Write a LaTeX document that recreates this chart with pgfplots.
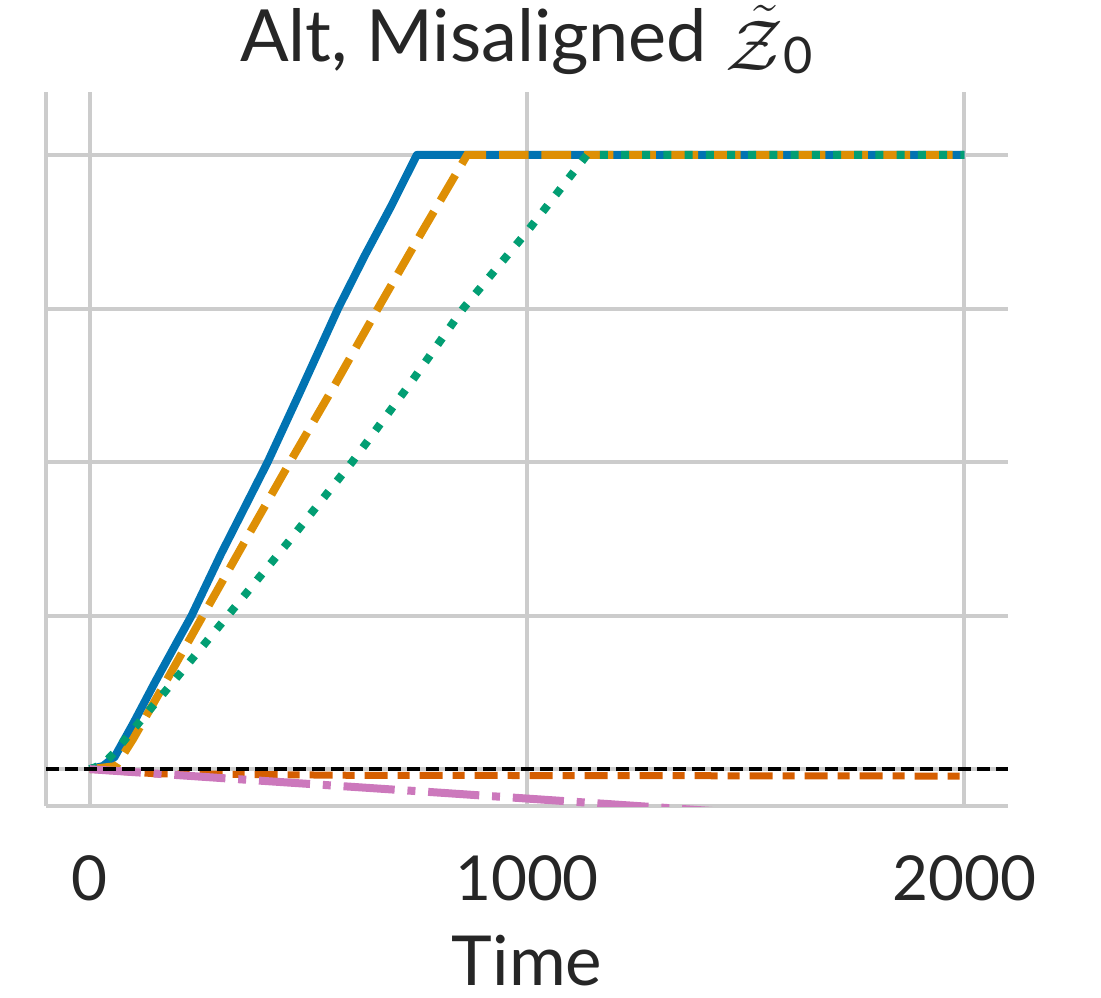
\RequirePackage{fix-cm}
\documentclass[border=0pt]{standalone}
\usepackage{amsmath}
\usepackage{fontspec}
\setmainfont{Lato}
\usepackage{pgfplots}
\pgfplotsset{compat=1.18}
\definecolor{cbblue}{HTML}{0173B2}
\definecolor{cborange}{HTML}{DE8F05}
\definecolor{cbgreen}{HTML}{029E73}
\definecolor{cbred}{HTML}{D55E00}
\definecolor{cbpink}{HTML}{CC78BC}
\definecolor{gridgray}{HTML}{CCCCCC}
\begin{document}
\begin{tikzpicture}
\begin{axis}[
  scale only axis, width=481pt, height=357pt,
  xmin=-100, xmax=2100, ymin=-0.24, ymax=4.41,
  axis x line*=bottom, axis y line*=left,
  axis line style={draw=gridgray, line width=2.25pt},
  xtick={0,1000,2000}, ytick={0,1,2,3,4}, yticklabels={},
  major tick length=0pt,
  grid=major, major grid style={draw=gridgray, line width=2pt},
  /pgf/number format/assume math mode=true,
  /pgf/number format/1000 sep={},
  xticklabel style={anchor=base, yshift=-47pt, font=\fontsize{31}{37}\selectfont, text=black!85},
  xlabel={Time},
  xlabel style={anchor=base, at={(axis description cs:0.5,0)}, yshift=-89.5pt, font=\fontsize{34.5}{40}\selectfont, text=black!85},
  title={Alt, Misaligned $\raisebox{-0.12em}{$\tilde{\mathcal{Z}}$}_{\text{0}}$},
  title style={anchor=base, at={(axis description cs:0.5,1)}, yshift=9pt, font=\fontsize{36}{42}\selectfont, text=black!85},
]
\addplot[cbblue, line width=4pt, line join=round] coordinates {
(0,0) (30,0.02) (57,0.08) (100,0.3) (150,0.57) (200,0.83) (233,1) (300,1.4) (350,1.68) (407,2) (480,2.45) (568,3) (630,3.35) (690,3.67) (748,4) (2000,4)};
\addplot[cborange, line width=4pt, dash pattern=on 14.8pt off 6.4pt] coordinates {
(0,0) (60,0.02) (100,0.2) (180,0.6) (259,1) (358,1.5) (458,2) (560,2.5) (659,3) (760,3.5) (863,4) (2000,4)};
\addplot[cbgreen, line width=4pt, dash pattern=on 4pt off 6.6pt] coordinates {
(0,0) (30,0.03) (57,0.11) (100,0.26) (200,0.6) (316,1) (460,1.5) (600,2) (730,2.5) (854,3) (1000,3.5) (1137,4) (2000,4)};
\addplot[cbred, line width=3.5pt, dash pattern=on 11.5pt off 5pt on 6pt off 5pt] coordinates {
(0,0) (150,-0.03) (600,-0.04) (2000,-0.045)};
\addplot[cbpink, line width=4pt, dash pattern=on 25.6pt off 6.4pt on 4pt off 6.4pt] coordinates {
(0,0) (400,-0.077) (800,-0.153) (1200,-0.23) (1600,-0.306) (2000,-0.383)};
\addplot[black, line width=1.75pt, dash pattern=on 6.5pt off 3pt] coordinates {(-100,0) (2100,0)};
\end{axis}
\pgfresetboundingbox
\path[use as bounding box] (-23pt,-95.5pt) rectangle (527.5pt,403pt);
\end{tikzpicture}
\end{document}
